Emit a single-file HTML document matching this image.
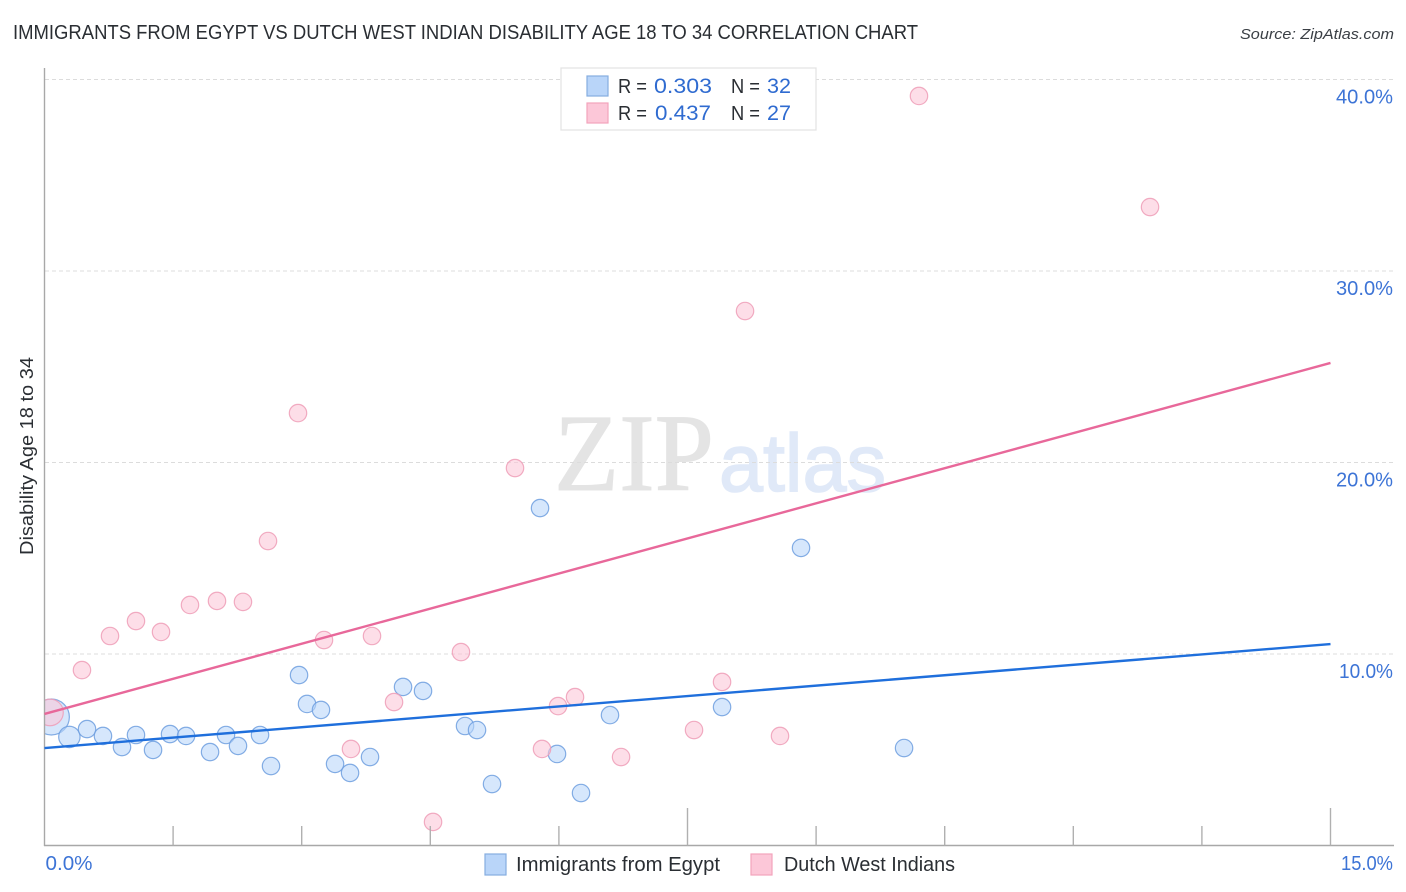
<!DOCTYPE html>
<html lang="en">
<head>
<meta charset="utf-8">
<title>Immigrants from Egypt vs Dutch West Indian Disability Age 18 to 34 Correlation Chart</title>
<style>
html,body{margin:0;padding:0;background:#fff;width:1406px;height:892px;overflow:hidden}
svg{display:block;font-family:"Liberation Sans",sans-serif}
</style>
</head>
<body>
<svg id="chart" xmlns="http://www.w3.org/2000/svg" width="1406" height="892" viewBox="0 0 1406 892">
  <rect x="0" y="0" width="1406" height="892" fill="#ffffff"></rect>

  <text x="13" y="39" font-size="20" fill="#2a2e33" textLength="905" lengthAdjust="spacingAndGlyphs">IMMIGRANTS FROM EGYPT VS DUTCH WEST INDIAN DISABILITY AGE 18 TO 34 CORRELATION CHART</text>
  <text x="1240" y="39" font-size="15" font-style="italic" fill="#3a3f45" textLength="154" lengthAdjust="spacingAndGlyphs">Source: ZipAtlas.com</text>

  <g>
    <text x="554" y="490" font-family="'Liberation Serif',serif" font-size="110" fill="#e4e4e4" stroke="#e4e4e4" stroke-width="1" textLength="160" lengthAdjust="spacingAndGlyphs">ZIP</text>
    <text x="719" y="491" font-size="82" fill="#e0e9f8" stroke="#e0e9f8" stroke-width="1.5" textLength="167" lengthAdjust="spacingAndGlyphs">atlas</text>
  </g>

  <g id="grid"></g>
  <g id="y-labels"></g>
  <g id="x-labels"></g>
  <g id="points"></g>
  <rect x="0" y="60" width="44.5" height="790" fill="#ffffff"></rect>
  <g id="axes"></g>
  <g id="trends"></g>

  <text transform="translate(33,456) rotate(-90)" text-anchor="middle" font-size="18" fill="#2a2e33" textLength="198" lengthAdjust="spacingAndGlyphs">Disability Age 18 to 34</text>

  <g>
    <rect x="561" y="68" width="255" height="62" fill="#ffffff" stroke="#e2e2e2" stroke-width="1.2"></rect>
    <rect x="587" y="76" width="21" height="20" fill="#b9d5f9" stroke="#86ade0" stroke-width="1.2"></rect>
    <rect x="587" y="103" width="21" height="20" fill="#fcc7d8" stroke="#f2a3bc" stroke-width="1.2"></rect>
    <text x="618" y="93" font-size="20" fill="#2a2e33" textLength="29" lengthAdjust="spacingAndGlyphs">R =</text>
    <text x="654" y="93" font-size="21" fill="#2f6bd0" textLength="58" lengthAdjust="spacingAndGlyphs">0.303</text>
    <text x="731" y="93" font-size="20" fill="#2a2e33" textLength="29" lengthAdjust="spacingAndGlyphs">N =</text>
    <text x="767" y="93" font-size="21" fill="#2f6bd0" textLength="24" lengthAdjust="spacingAndGlyphs">32</text>
    <text x="618" y="120" font-size="20" fill="#2a2e33" textLength="29" lengthAdjust="spacingAndGlyphs">R =</text>
    <text x="655" y="120" font-size="21" fill="#2f6bd0" textLength="56" lengthAdjust="spacingAndGlyphs">0.437</text>
    <text x="731" y="120" font-size="20" fill="#2a2e33" textLength="29" lengthAdjust="spacingAndGlyphs">N =</text>
    <text x="767" y="120" font-size="21" fill="#2f6bd0" textLength="24" lengthAdjust="spacingAndGlyphs">27</text>
  </g>

  <g>
    <g>
      <rect x="485" y="854" width="21" height="21" fill="#b9d5f9" stroke="#86ade0" stroke-width="1.2"></rect>
      <text x="516" y="871" font-size="20" fill="#2a2e33" textLength="204" lengthAdjust="spacingAndGlyphs">Immigrants from Egypt</text>
    </g>
    <g>
      <rect x="751" y="854" width="21" height="21" fill="#fcc7d8" stroke="#f2a3bc" stroke-width="1.2"></rect>
      <text x="784" y="871" font-size="20" fill="#2a2e33" textLength="171" lengthAdjust="spacingAndGlyphs">Dutch West Indians</text>
    </g>
  </g>
</svg>
<script>
// Chart data (percent values)
var yTicks = [10, 20, 30, 40];
var yTickLabels = ['10.0%', '20.0%', '30.0%', '40.0%'];
var xTicks = [1.5, 3, 4.5, 6, 7.5, 9, 10.5, 12, 13.5, 15];
var xMajorTicks = [7.5, 15];
var xEndTicks = [0, 15];
var xEndLabels = ['0.0%', '15.0%'];

var egyptX = [0.08,0.29,0.496,0.682,0.904,1.067,1.266,1.464,1.651,1.931,2.117,2.257,2.514,2.642,2.969,3.062,3.225,3.389,3.564,3.797,4.182,4.415,4.905,5.045,5.220,5.780,5.978,6.258,6.596,7.903,8.824,10.026];
var egyptY = [6.71,5.67,6.08,5.72,5.14,5.77,4.99,5.82,5.72,4.88,5.77,5.20,5.77,4.15,8.90,7.39,7.08,4.26,3.79,4.62,8.28,8.07,6.24,6.03,3.21,17.62,4.78,2.74,6.81,7.23,15.54,5.09];
var egyptWeight = [4.28,1.51,1,1,1,1,1,1,1,1,1,1,1,1,1,1,1,1,1,1,1,1,1,1,1,1,1,1,1,1,1,1];

var dutchX = [0.064,0.437,0.764,1.067,1.359,1.697,2.012,2.315,2.607,2.957,3.260,3.575,3.820,4.077,4.532,4.858,5.488,5.803,5.990,6.188,6.725,7.576,7.903,8.171,8.579,10.200,12.895];
var dutchY = [6.95,9.16,10.94,11.72,11.15,12.56,12.77,12.72,15.90,22.58,10.73,5.04,10.94,7.49,1.23,10.10,19.71,5.04,7.28,7.75,4.62,6.03,8.54,27.91,5.72,39.14,33.34];
var dutchWeight = [2.34,1,1,1,1,1,1,1,1,1,1,1,1,1,1,1,1,1,1,1,1,1,1,1,1,1,1];

var trendX = [0, 15];
var egyptTrendY = [5.09, 10.52];
var dutchTrendY = [6.87, 25.2];

var SVG_NS = 'http://www.w3.org/2000/svg';
function xScale(v) { return 44.5 + v * (1286 / 15); }
function yScale(v) { return 845.5 - v * 19.15; }
function radius(w) { return 8.7 * Math.sqrt(w); }
function make(tag, attrs, parent) {
  var el = document.createElementNS(SVG_NS, tag);
  for (var k in attrs) { el.setAttribute(k, attrs[k]); }
  parent.appendChild(el);
  return el;
}

var gridG = document.getElementById('grid');
var axesG = document.getElementById('axes');
var yLabelG = document.getElementById('y-labels');
var xLabelG = document.getElementById('x-labels');
var pointsG = document.getElementById('points');
var trendsG = document.getElementById('trends');

yTicks.forEach(function (t, i) {
  var line = make('line', {x1: 45, x2: 1393, y1: yScale(t), y2: yScale(t), stroke: '#dcdcdc', 'stroke-width': 1, 'stroke-dasharray': '4 3'}, gridG);
  
  
  var label = make('text', {x: 1393, y: yScale(t) + 24, 'text-anchor': 'end', 'font-size': 20, fill: '#3d74d6', textLength: t === 10 ? 54 : 57, lengthAdjust: 'spacingAndGlyphs'}, yLabelG);
  label.textContent = yTickLabels[i];
  
  
});

var yAxis = make('line', {x1: 44.5, x2: 44.5, y1: 68, y2: 846, stroke: '#a8a8a8', 'stroke-width': 1.4}, axesG);


var xAxis = make('line', {x1: 44, x2: 1394, y1: 845.5, y2: 845.5, stroke: '#a8a8a8', 'stroke-width': 1.4}, axesG);



xTicks.forEach(function (t) {
  var top = xMajorTicks.indexOf(t) >= 0 ? 808 : 826;
  var tick = make('line', {x1: xScale(t), x2: xScale(t), y1: top, y2: 845.5, stroke: '#b0b0b0', 'stroke-width': 1.4}, axesG);
  
  
});

xEndTicks.forEach(function (t, i) {
  var attrs = i === 0
    ? {x: xScale(t) + 1, y: 870, 'text-anchor': 'start', 'font-size': 20, fill: '#3d74d6', textLength: 47, lengthAdjust: 'spacingAndGlyphs'}
    : {x: 1393, y: 870, 'text-anchor': 'end', 'font-size': 20, fill: '#3d74d6', textLength: 52, lengthAdjust: 'spacingAndGlyphs'};
  var label = make('text', attrs, xLabelG);
  label.textContent = xEndLabels[i];
  
  
});

egyptX.forEach(function (v, i) {
  var c = make('circle', {cx: xScale(v), cy: yScale(egyptY[i]), r: radius(egyptWeight[i]), fill: '#b9d5f9', 'fill-opacity': 0.58, stroke: '#6f9fdf', 'stroke-opacity': 0.85, 'stroke-width': 1.2}, pointsG);
  
  
});

dutchX.forEach(function (v, i) {
  var c = make('circle', {cx: xScale(v), cy: yScale(dutchY[i]), r: radius(dutchWeight[i]), fill: '#fcc7d8', 'fill-opacity': 0.58, stroke: '#ee9db7', 'stroke-opacity': 0.85, 'stroke-width': 1.2}, pointsG);
  
  
});

var egyptLine = make('line', {x1: xScale(trendX[0]), x2: xScale(trendX[1]), y1: yScale(egyptTrendY[0]), y2: yScale(egyptTrendY[1]), stroke: '#1f6fdc', 'stroke-width': 2.4}, trendsG);


var dutchLine = make('line', {x1: xScale(trendX[0]), x2: xScale(trendX[1]), y1: yScale(dutchTrendY[0]), y2: yScale(dutchTrendY[1]), stroke: '#e8689a', 'stroke-width': 2.4}, trendsG);


</script>
</body>
</html>
